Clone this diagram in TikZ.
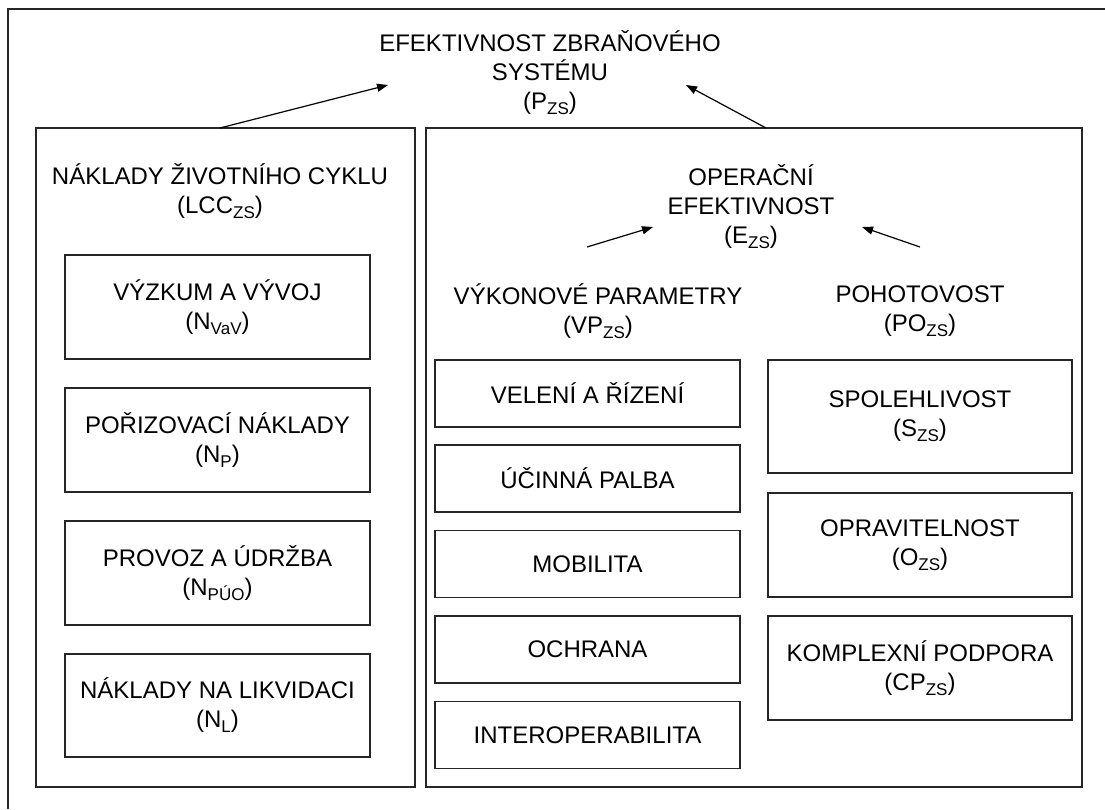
\documentclass[tikz,border=0pt]{standalone}
\usepackage{fontspec}
\setmainfont{Liberation Sans}
\usetikzlibrary{arrows.meta}
% lowered, smaller index text such as the "ZS" in (P_ZS)
\newcommand\idx[1]{\raisebox{-5pt}{\fontsize{17}{17}\selectfont #1}}
\begin{document}
\begin{tikzpicture}[x=1pt,y=-1pt,
  lbl/.style={align=center,inner sep=0pt,font=\fontsize{24}{29}\selectfont},
  frame/.style={draw=black!85,line width=1.4pt},
  box/.style={frame,lbl,rectangle},
  link/.style={draw=black,line width=1.2pt,-{Triangle[length=11pt,width=8pt]}}
]
\useasboundingbox (0,0) rectangle (1105,809);
\fill[white] (0,0) rectangle (1105,809);

% page frame: left and top edges only
\coordinate (fbl) at (8,809);
\coordinate (ftl) at (8,9);
\coordinate (ftr) at (1105,9);
\draw[frame] (fbl) -- (ftl) -- (ftr);

% title
\node[lbl] (pzs) at (550,73) {EFEKTIVNOST ZBRAŇOVÉHO\\SYSTÉMU\\(P\idx{ZS})};

% two main panels
\node[frame,minimum width=379pt,minimum height=659pt] (lcc) at (225.5,457.5) {};
\node[frame,minimum width=656pt,minimum height=659pt] (ops) at (754,457.5) {};

% arrows into the title
\coordinate (lccTop) at (220,128);
\coordinate (opsTop) at (766,128);
\coordinate (pzsL) at (388,85);
\coordinate (pzsR) at (686,85);
\draw[link] (lccTop) -- (pzsL);
\draw[link] (opsTop) -- (pzsR);

% left panel: life cycle costs
\node[lbl] (lcch) at (220,191) {NÁKLADY ŽIVOTNÍHO CYKLU\\(LCC\idx{ZS})};
\node[box,minimum width=305pt,minimum height=104pt] (vav) at (217.5,307) {VÝZKUM A VÝVOJ\\(N\idx{VaV})};
\node[box,minimum width=305pt,minimum height=104pt] (por) at (217.5,440) {POŘIZOVACÍ NÁKLADY\\(N\idx{P})};
\node[box,minimum width=305pt,minimum height=104pt] (puo) at (217.5,573) {PROVOZ A ÚDRŽBA\\(N\idx{PÚO})};
\node[box,minimum width=305pt,minimum height=103pt] (lik) at (217.5,705.5) {NÁKLADY NA LIKVIDACI\\(N\idx{L})};

% right panel: operational effectiveness
\node[lbl] (ezs) at (751,207) {OPERAČNÍ\\EFEKTIVNOST\\(E\idx{ZS})};
\node[lbl] (vpzs) at (598,311) {VÝKONOVÉ PARAMETRY\\(VP\idx{ZS})};
\node[lbl] (pozs) at (920,311) {POHOTOVOST\\(PO\idx{ZS})};
\coordinate (vpTop) at (587,247);
\coordinate (poTop) at (920,247);
\coordinate (ezsL) at (653,227);
\coordinate (ezsR) at (862,227);
\draw[link] (vpTop) -- (ezsL);
\draw[link] (poTop) -- (ezsR);

% performance parameters
\node[box,minimum width=305pt,minimum height=67pt] (vel) at (587.5,393.5) {VELENÍ A ŘÍZENÍ};
\node[box,minimum width=305pt,minimum height=67pt] (pal) at (587.5,478.5) {ÚČINNÁ PALBA};
\node[box,minimum width=305pt,minimum height=67pt] (mob) at (587.5,564) {MOBILITA};
\node[box,minimum width=305pt,minimum height=67pt] (och) at (587.5,649.5) {OCHRANA};
\node[box,minimum width=305pt,minimum height=67pt] (int) at (587.5,735) {INTEROPERABILITA};

% readiness
\node[box,minimum width=304pt,minimum height=113pt] (spo) at (920,416.5) {SPOLEHLIVOST\\(S\idx{ZS})};
\node[box,minimum width=304pt,minimum height=104pt] (opr) at (920,545) {OPRAVITELNOST\\(O\idx{ZS})};
\node[box,minimum width=304pt,minimum height=104pt] (kom) at (920,668) {KOMPLEXNÍ PODPORA\\(CP\idx{ZS})};
\end{tikzpicture}
\end{document}
